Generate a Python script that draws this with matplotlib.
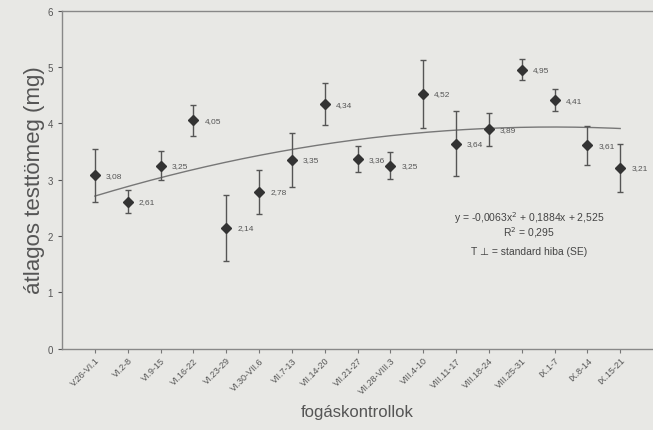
import numpy as np
import matplotlib
matplotlib.use('Agg')
import matplotlib.pyplot as plt

# weekly catch periods
periods = ['V.26-VI.1', 'VI.2-8', 'VI.9-15', 'VI.16-22', 'VI.23-29', 'VI.30-VII.6',
           'VII.7-13', 'VII.14-20', 'VII.21-27', 'VII.28-VIII.3', 'VIII.4-10',
           'VIII.11-17', 'VIII.18-24', 'VIII.25-31', 'IX.1-7', 'IX.8-14', 'IX.15-21']
means = [3.08, 2.61, 3.25, 4.05, 2.14, 2.78, 3.35, 4.34, 3.36, 3.25, 4.52,
         3.64, 3.89, 4.95, 4.41, 3.61, 3.21]
se = [0.47, 0.21, 0.26, 0.27, 0.58, 0.39, 0.48, 0.37, 0.23, 0.24, 0.60,
      0.58, 0.30, 0.19, 0.19, 0.35, 0.43]
# quadratic trend coefficients (a, b, c)
trend = [-0.0063, 0.1884, 2.525]

bg = '#e8e8e5'
plt.rcParams['font.family'] = ['Liberation Sans', 'DejaVu Sans']

fig = plt.figure(figsize=(6.53, 4.31), dpi=100, facecolor=bg)
ax = fig.add_axes([0.095, 0.189, 0.905, 0.784], facecolor=bg)

x = np.arange(1, len(means) + 1)
ax.errorbar(x, means, yerr=se, fmt='D', color='#333333', ms=5, ecolor='#555555',
            elinewidth=1.0, capsize=2.5, capthick=1.0, zorder=3)

for xi, m in zip(x, means):
    ax.annotate(('%.2f' % m).replace('.', ','), (xi, m), xytext=(8, 0),
                textcoords='offset points', fontsize=6, color='#555555', va='center')

xt = np.linspace(1, len(means), 200)
ax.plot(xt, np.polyval(trend, xt), color='#777777', lw=1.0, zorder=2)

ax.text(0.79, 0.39, 'y = -0,0063x$^2$ + 0,1884x + 2,525', transform=ax.transAxes,
        ha='center', va='center', fontsize=7.5, color='#444444')
ax.text(0.79, 0.345, 'R$^2$ = 0,295', transform=ax.transAxes,
        ha='center', va='center', fontsize=7.5, color='#444444')
ax.text(0.79, 0.29, 'T \u22a5 = standard hiba (SE)', transform=ax.transAxes,
        ha='center', va='center', fontsize=7.5, color='#444444')

ax.set_xlim(0, 18)
ax.set_ylim(0, 6)
ax.set_xticks(x)
ax.set_xticklabels(periods, rotation=45, ha='right', rotation_mode='anchor',
                   fontsize=6.5, color='#555555')
ax.set_yticks(range(7))
ax.tick_params(axis='y', labelsize=7, colors='#555555', length=3)
ax.tick_params(axis='x', length=3, colors='#777777', pad=2)
for lab in ax.get_xticklabels():
    lab.set_color('#555555')

for side in ['left', 'bottom', 'top']:
    ax.spines[side].set_color('#888888')
    ax.spines[side].set_linewidth(1.0)
ax.spines['right'].set_visible(False)

ax.set_ylabel('átlagos testtömeg (mg)', fontsize=16, color='#555555', labelpad=2)
ax.set_xlabel('fogáskontrollok', fontsize=12, color='#555555', labelpad=6)

fig.savefig('out.png', dpi=100, facecolor=bg)
